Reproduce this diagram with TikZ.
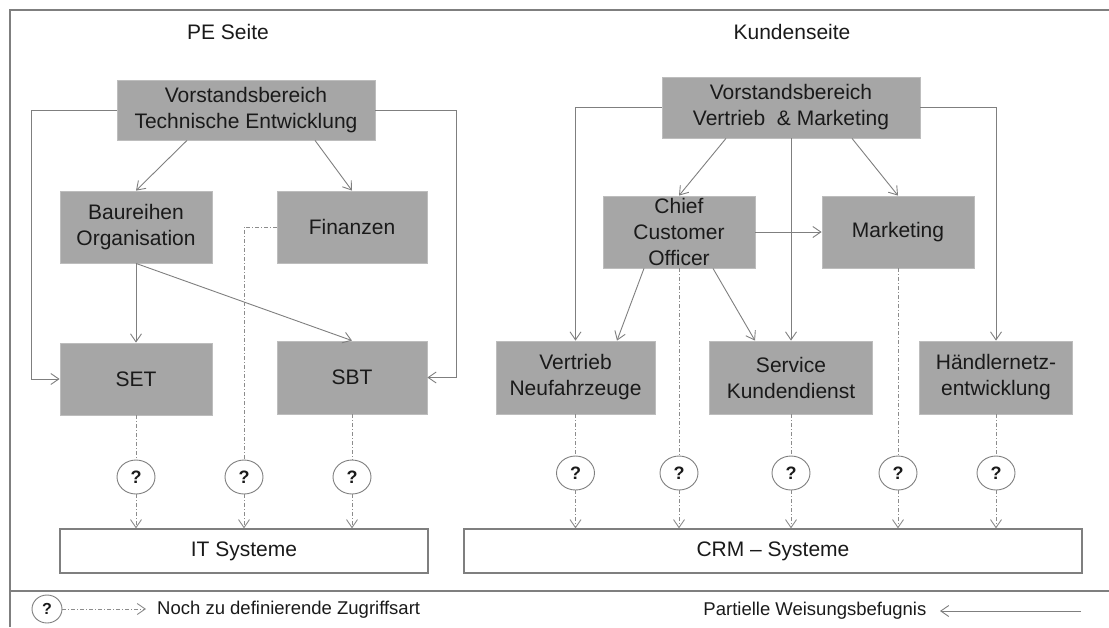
\documentclass[tikz,border=0pt]{standalone}
\usepackage{fontspec}
\setmainfont{Liberation Sans}
\usetikzlibrary{arrows.meta,shapes.geometric}
\definecolor{boxfill}{HTML}{A6A6A6}
\definecolor{boxedge}{HTML}{BDBDBD}
\definecolor{linegray}{HTML}{7F7F7F}
\definecolor{dotgray}{HTML}{8C8C8C}
\definecolor{txt}{HTML}{1A1A1A}
\begin{document}
\begin{tikzpicture}[x=1pt,y=-1pt,
  every node/.style={text=txt},
  unit/.style={rectangle,fill=boxfill,draw=boxedge,line width=0.8pt,inner sep=0pt,
    align=center,font=\fontsize{21}{26}\selectfont},
  sysbox/.style={rectangle,fill=white,draw=linegray,line width=1.3pt,inner sep=0pt,
    align=center,font=\fontsize{21}{26}\selectfont},
  qmark/.style={ellipse,draw=linegray,line width=0.9pt,fill=white,inner sep=0pt,
    minimum width=38pt,minimum height=34pt,font=\fontsize{18}{18}\selectfont\bfseries},
  header/.style={font=\fontsize{21}{26}\selectfont},
  link/.style={draw=linegray,line width=0.9pt},
  arr/.style={link,-{Straight Barb[length=8pt,width=11pt]}},
  access/.style={draw=dotgray,line width=0.9pt,dash pattern=on 4pt off 2pt on 1pt off 2pt},
  accarr/.style={access,-{Straight Barb[length=8pt,width=11pt]}},
  frameline/.style={draw=linegray,line width=1.5pt}
]
\useasboundingbox (0,0) rectangle (1109,627);

% outer frame and legend separator
\draw[frameline] (10,627) -- (10,10) -- (1109,10);
\draw[frameline] (10,591) -- (1109,591);

% headers
\node[header] (hpe) at (228,32) {PE Seite};
\node[header] (hku) at (792,32) {Kundenseite};

% ---------- PE side ----------
\node[unit,minimum width=258pt,minimum height=60pt] (T1) at (246,110)
  {Vorstandsbereich\\Technische Entwicklung};
\node[unit,minimum width=152pt,minimum height=72pt] (B) at (136,227)
  {Baureihen\\Organisation};
\node[unit,minimum width=150pt,minimum height=72pt] (F) at (352,227) {Finanzen};
\node[unit,minimum width=152pt,minimum height=72pt] (SET) at (136,379) {SET};
\node[unit,minimum width=150pt,minimum height=73pt] (SBT) at (352,377.5) {SBT};

\node[qmark] (Q1) at (136,477) {?};
\node[qmark] (Q2) at (244,477) {?};
\node[qmark] (Q3) at (352,477) {?};

\node[sysbox,minimum width=368pt,minimum height=44pt] (IT) at (244,551) {IT Systeme};

\draw[arr] ([xshift=-59pt]T1.south) -- (B.north);
\draw[arr] ([xshift=69pt]T1.south) -- (F.north);
\draw[arr] (B.south) -- (SET.north);
\draw[arr] (B.south) -- (SBT.north);
\draw[arr] (T1.west) -- ++(-85,0) |- (SET.west);
\draw[arr] (T1.east) -- ++(81,0) |- (SBT.east);

\draw[access] (SET.south) -- (Q1.north);
\draw[access] (SBT.south) -- (Q3.north);
\draw[access] (F.west) -| (Q2.north);
\draw[accarr] (Q1.south) -- (Q1.south |- IT.north);
\draw[accarr] (Q2.south) -- (Q2.south |- IT.north);
\draw[accarr] (Q3.south) -- (Q3.south |- IT.north);

% ---------- customer side ----------
\node[unit,minimum width=258pt,minimum height=61pt] (T2) at (791,107.5)
  {Vorstandsbereich\\Vertrieb~ \& Marketing};
\node[unit,minimum width=152pt,minimum height=72pt] (CCO) at (679,232)
  {Chief\\Customer\\Officer};
\node[unit,minimum width=152pt,minimum height=72pt] (MKT) at (898,232) {Marketing};
\node[unit,minimum width=159pt,minimum height=73pt] (VN) at (575.5,377.5)
  {Vertrieb\\Neufahrzeuge};
\node[unit,minimum width=163pt,minimum height=73pt] (SK) at (791,377.5)
  {Service\\Kundendienst};
\node[unit,minimum width=153pt,minimum height=73pt] (HE) at (996,377.5)
  {Händlernetz-\\entwicklung};

\node[qmark] (R1) at (575.5,473) {?};
\node[qmark] (R2) at (679,473) {?};
\node[qmark] (R3) at (791,473) {?};
\node[qmark] (R4) at (898,473) {?};
\node[qmark] (R5) at (996,473) {?};

\node[sysbox,minimum width=618pt,minimum height=44pt] (CRM) at (773,551) {CRM – Systeme};

\draw[arr] ([xshift=-65pt]T2.south) -- (CCO.north);
\draw[arr] ([xshift=61pt]T2.south) -- (MKT.north);
\draw[arr] (T2.south) -- (SK.north);
\draw[arr] (T2.west) -| (VN.north);
\draw[arr] (T2.east) -| (HE.north);
\draw[arr] (CCO.east) -- (MKT.west);
\draw[arr] ([xshift=-35pt]CCO.south) -- ([xshift=41.5pt]VN.north);
\draw[arr] ([xshift=34pt]CCO.south) -- ([xshift=-36pt]SK.north);

\draw[access] (VN.south) -- (R1.north);
\draw[access] (CCO.south) -- (R2.north);
\draw[access] (SK.south) -- (R3.north);
\draw[access] (MKT.south) -- (R4.north);
\draw[access] (HE.south) -- (R5.north);
\foreach \q in {R1,R2,R3,R4,R5}
  \draw[accarr] (\q.south) -- (\q.south |- CRM.north);

% ---------- legend ----------
\node[qmark,minimum width=30pt,minimum height=28pt,font=\fontsize{16}{16}\selectfont\bfseries]
  (LQ) at (47,609) {?};
\node[anchor=west,inner sep=0pt,font=\fontsize{18.5}{20}\selectfont] (LN) at (157,610)
  {Noch zu definierende Zugriffsart};
\draw[accarr,shorten >=11pt] (LQ.east) -- (LN.west |- LQ.east);

\node[anchor=east,inner sep=0pt,font=\fontsize{18.5}{20}\selectfont] (LP) at (926.5,611)
  {Partielle Weisungsbefugnis};
\coordinate (LPstart) at (1081,611);
\draw[arr,shorten >=13.5pt] (LPstart) -- (LP.east);
\end{tikzpicture}
\end{document}
